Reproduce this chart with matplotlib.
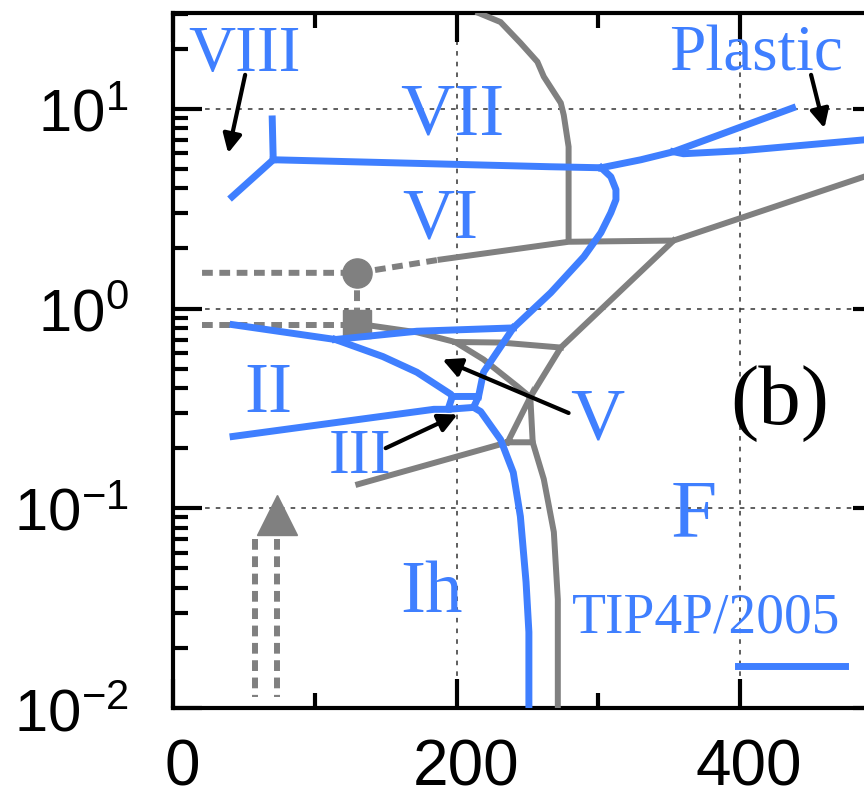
import matplotlib
matplotlib.use("Agg")
import matplotlib.pyplot as plt
import matplotlib.transforms as mtransforms

plt.rcParams['mathtext.fontset'] = 'custom'
plt.rcParams['mathtext.rm'] = 'Liberation Sans'
plt.rcParams['mathtext.it'] = 'Liberation Sans:italic'
plt.rcParams['mathtext.bf'] = 'Liberation Sans:bold'

BLUE = '#3f7fff'
GRAY = '#808080'

# ---- TIP4P/2005 (blue) boundaries: T [K], p [GPa]
viii_vii_T = [70, 70.7]
viii_vii_p = [8.9, 5.56]
viii_vi_T = [41.7, 70.7]
viii_vi_p = [3.63, 5.56]
vi_vii_T = [70.7, 266, 302]
vi_vii_p = [5.56, 5.13, 5.07]
vii_liq_T = [302, 330, 353, 437]
vii_liq_p = [5.07, 5.56, 6.1, 10.1]
plastic_T = [353, 360, 400.7, 488, 500]
plastic_p = [6.1, 5.96, 6.17, 7.0, 7.2]
vi_liq_T = [302, 308.8, 312.4, 312.4, 308.8, 301.8, 289.8, 266.4, 240]
vi_liq_p = [5.07, 4.57, 3.94, 3.51, 3.02, 2.40, 1.82, 1.20, 0.80]
ii_vi_T = [42.4, 114.5]
ii_vi_p = [0.83, 0.70]
ii_v_T = [114.5, 172, 240]
ii_v_p = [0.70, 0.77, 0.80]
ii_iii_T = [114.5, 148, 172, 196, 197]
ii_iii_p = [0.70, 0.575, 0.48, 0.372, 0.363]
iii_box_T = [197, 215.5, 212, 194, 197]
iii_box_p = [0.363, 0.363, 0.32, 0.313, 0.363]
iii_v_T = [215.5, 219, 240]
iii_v_p = [0.363, 0.48, 0.80]
ih_ii_T = [42.4, 184, 194]
ih_ii_p = [0.229, 0.313, 0.313]
ih_liq_T = [212, 217, 231, 240, 245, 249, 251, 251]
ih_liq_p = [0.32, 0.305, 0.221, 0.151, 0.091, 0.0427, 0.024, 0.01]

# ---- experiment (gray) boundaries
g_vii_T = [215.5, 231, 245, 257, 261.5, 273.5, 275.6, 279, 279]
g_vii_p = [30.2, 27.2, 21.4, 17.2, 14.5, 10.7, 9.3, 6.46, 2.19]
g_vi_dash_T = [20.5, 130, 188.7]
g_vi_dash_p = [1.51, 1.51, 1.76]
g_vi_T = [188.7, 279, 353, 500]
g_vi_p = [1.76, 2.16, 2.19, 4.9]
g_ii_dash_T = [20.5, 130]
g_ii_dash_p = [0.83, 0.83]
g_link_T = [130, 130]
g_link_p = [1.51, 0.84]
g_ii_v_T = [130, 172.4, 199, 219, 243, 252]
g_ii_v_p = [0.84, 0.76, 0.68, 0.556, 0.407, 0.36]
g_ii_vi_T = [199, 231, 273.5]
g_ii_vi_p = [0.68, 0.676, 0.638]
g_v_liq_T = [252, 273.5, 353]
g_v_liq_p = [0.36, 0.638, 2.19]
g_iii_T = [236, 252, 253.7, 236]
g_iii_p = [0.214, 0.36, 0.214, 0.214]
g_ih_ii_T = [130.7, 236]
g_ih_ii_p = [0.132, 0.214]
g_ih_liq_T = [253.7, 261.5, 268.6, 271.4, 271.4]
g_ih_liq_p = [0.214, 0.14, 0.076, 0.035, 0.01]
g_circle = (130, 1.51)
g_square = (130, 0.84)
g_triangle = (73.5, 0.093)
g_arrow_T = [58, 73.5]
g_arrow_p = [0.070, 0.0114]

# ---- labels
phase_names = ['VIII', 'VII', 'VI', 'II', 'III', 'Ih', 'V', 'F', 'Plastic']
phase_T = [50.2, 197, 188.7, 67, 132, 182, 299, 367, 411]
phase_p = [15.5, 7.41, 2.26, 0.302, 0.151, 0.0302, 0.221, 0.0724, 15.5]
phase_size = [47, 54, 52, 52, 45, 54, 54, 60, 47]

arrow_from = [(50.9, 14.8), (450, 14.8), (279, 0.30), (150, 0.20)]
arrow_to = [(38.9, 6.0), (459.4, 8.0), (190, 0.556), (200.7, 0.295)]

fig = plt.figure(figsize=(8.64, 8.01), dpi=100)
ax = fig.add_axes([0.2002, 0.1161, 0.8206, 0.8677])

blue_lines = [(viii_vii_T, viii_vii_p), (viii_vi_T, viii_vi_p), (vi_vii_T, vi_vii_p),
              (vii_liq_T, vii_liq_p), (plastic_T, plastic_p), (vi_liq_T, vi_liq_p),
              (ii_vi_T, ii_vi_p), (ii_v_T, ii_v_p), (ii_iii_T, ii_iii_p),
              (iii_box_T, iii_box_p), (iii_v_T, iii_v_p), (ih_ii_T, ih_ii_p),
              (ih_liq_T, ih_liq_p)]
gray_lines = [(g_vii_T, g_vii_p), (g_vi_T, g_vi_p), (g_ii_v_T, g_ii_v_p),
              (g_ii_vi_T, g_ii_vi_p), (g_v_liq_T, g_v_liq_p), (g_iii_T, g_iii_p),
              (g_ih_ii_T, g_ih_ii_p), (g_ih_liq_T, g_ih_liq_p)]
gray_dashed = [(g_vi_dash_T, g_vi_dash_p), (g_ii_dash_T, g_ii_dash_p),
               (g_link_T, g_link_p)]

for T, p in gray_lines:
    ax.plot(T, p, color=GRAY, lw=4.3, solid_joinstyle='miter', zorder=3)
for T, p in gray_dashed:
    ax.plot(T, p, color=GRAY, lw=4.3, ls=(0, (1.8, 1.1)), zorder=3)
for x in g_arrow_T:
    ax.plot([x, x], g_arrow_p, color=GRAY, lw=4.3, ls=(0, (1.8, 1.1)), zorder=3)
ax.plot(*g_circle, 'o', color=GRAY, ms=21, zorder=4)
ax.plot(*g_square, 's', color=GRAY, ms=20, zorder=4)
ax.plot(*g_triangle, '^', color=GRAY, ms=29, zorder=4)

for T, p in blue_lines:
    ax.plot(T, p, color=BLUE, lw=5, solid_joinstyle='round', zorder=5)

for name, T, p, s in zip(phase_names, phase_T, phase_p, phase_size):
    ax.text(T, p, name, color=BLUE, fontsize=s, family='Liberation Serif',
            ha='center', va='baseline', zorder=6)
ax.text(427.6, 0.263, '(b)', color='black', fontsize=61, family='Liberation Serif',
        ha='center', va='baseline', zorder=6)

for a, b in zip(arrow_from, arrow_to):
    ax.annotate('', xy=b, xytext=a,
                arrowprops=dict(arrowstyle='-|>', lw=3, color='black',
                                mutation_scale=28, shrinkA=0, shrinkB=0),
                zorder=6)

# key
ax.text(0.752, 0.109, 'TIP4P/2005', transform=ax.transAxes, color=BLUE,
        fontsize=40, family='Liberation Serif', ha='center', va='baseline')
ax.plot([0.797, 0.948], [0.06, 0.06], transform=ax.transAxes, color=BLUE, lw=5)

ax.set_yscale('log')
ax.set_xlim(0, 500)
ax.set_ylim(0.01, 30.2)
ax.set_xticks([0, 200, 400])
ax.set_xticks([100, 300, 500], minor=True)
ax.set_xticklabels(['0', '200', '400'], family='Liberation Sans', fontsize=46)
ax.set_yticks([0.01, 0.1, 1, 10])
ax.set_yticklabels(['$10^{-2}$', '$10^{-1}$', '$10^{0}$', '$10^{1}$'], fontsize=43)
ax.tick_params(which='both', direction='in', top=True, right=True, width=3)
ax.tick_params(which='major', length=21)
ax.tick_params(which='minor', length=11)
ax.tick_params(axis='x', pad=22)
ax.tick_params(axis='y', pad=32)
off = mtransforms.ScaledTranslation(9 / 100, 0, fig.dpi_scale_trans)
for lab in ax.get_xticklabels():
    lab.set_transform(lab.get_transform() + off)
for sp in ax.spines.values():
    sp.set_linewidth(3)
ax.grid(True, which='major', ls=(0, (3, 4)), lw=1.1, color='#333333')
ax.set_axisbelow(True)

fig.savefig('out.png', dpi=100)
